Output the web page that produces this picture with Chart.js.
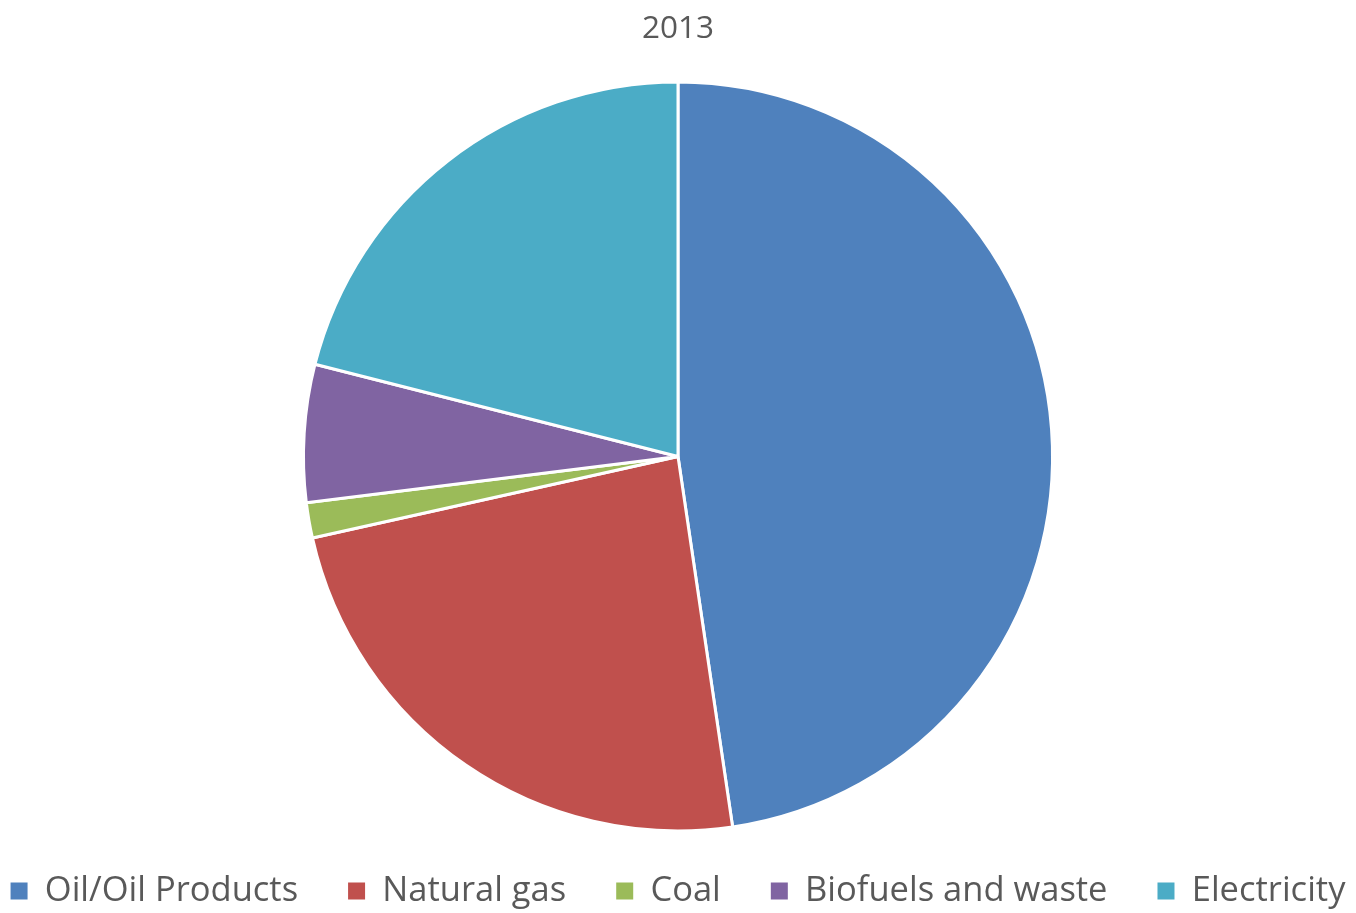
<!DOCTYPE html>
<html>
<head>
<meta charset="utf-8">
<script src="https://cdn.jsdelivr.net/npm/chart.js@4/dist/chart.umd.min.js"></script>
<style>
  html, body { margin: 0; padding: 0; background: #fff; }
  #wrap { position: relative; width: 1356px; height: 913px; }
</style>
</head>
<body>
<div id="wrap"><canvas id="chart"></canvas></div>
<script>
const title = "2013"
const categories = ["Oil/Oil Products", "Natural gas", "Coal", "Biofuels and waste", "Electricity"]
const shares = [47.67, 23.84, 1.52, 5.93, 21.04]

const sliceColors = ["#4F81BD", "#C0504D", "#9BBB59", "#8064A2", "#4BACC6"]
const textColor = "#595959"

// Excel-style legend: wide gaps between items, sits low in the canvas.
// Chart.js would wrap it, so let it measure against a wider row.
const legendBoxHeight = 80.5
const legendShiftY = -8.75
const wideLegend = {
  id: "wideLegend",
  beforeInit(chart) {
    const legend = chart.legend
    const fit = legend.fit
    legend.fit = function() {
      const w = this.maxWidth
      this.maxWidth = w + 400
      fit.call(this)
      this.maxWidth = w
      this.width = w
      this.height = legendBoxHeight
    }
  },
  afterLayout(chart) {
    // only move the top edge, the legend clips to its own box
    const legend = chart.legend
    legend.left -= 200
    legend.right += 200
    legend.top += legendShiftY
  }
}

const ctx = document.getElementById("chart").getContext("2d")

new Chart(ctx, {
  type: "pie",
  data: {
    labels: categories,
    datasets: [{
      data: shares,
      backgroundColor: sliceColors,
      borderColor: "#ffffff",
      borderWidth: 3
    }]
  },
  options: {
    responsive: true,
    maintainAspectRatio: false,
    animation: false,
    layout: {
      padding: 0
    },
    plugins: {
      title: {
        display: true,
        text: title,
        color: textColor,
        font: { family: "'Open Sans', sans-serif", size: 31.5, weight: "normal" },
        padding: { top: 10, bottom: 32.6 }
      },
      legend: {
        display: true,
        position: "bottom",
        labels: {
          color: textColor,
          font: { family: "'Open Sans', sans-serif", size: 34.5 },
          boxWidth: 17,
          boxHeight: 17,
          padding: 50,
          generateLabels(chart) {
            // plain squares, no white slice border round them
            const items = Chart.overrides.pie.plugins.legend.labels.generateLabels(chart)
            return items.map(item => ({ ...item, lineWidth: 0 }))
          }
        }
      },
      tooltip: { enabled: false }
    }
  },
  plugins: [wideLegend]
})
</script>
</body>
</html>
